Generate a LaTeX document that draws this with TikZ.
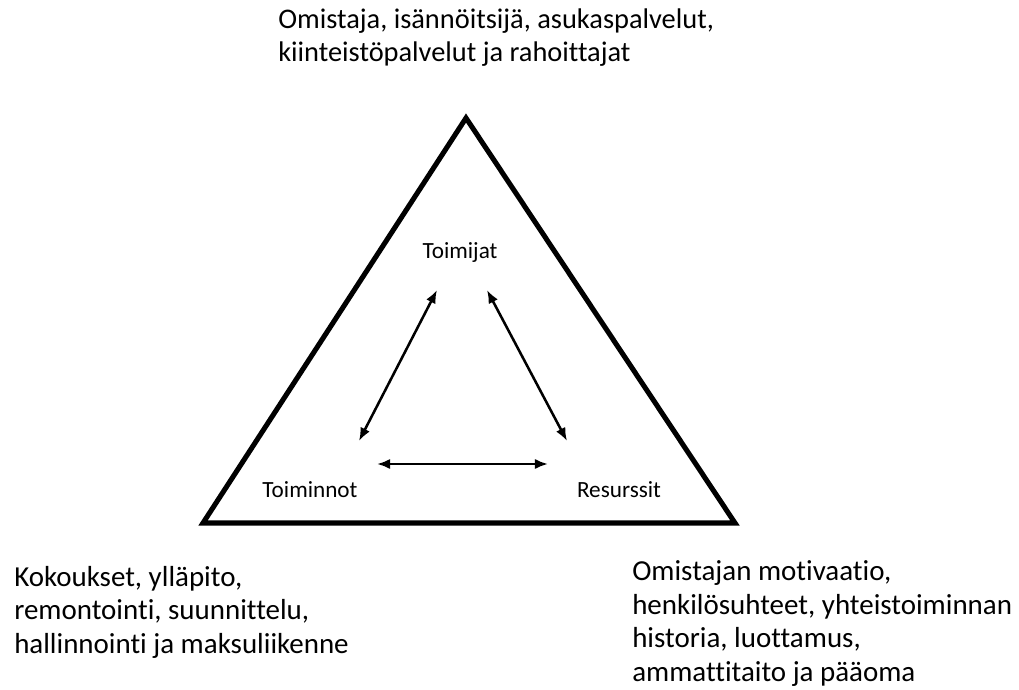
\documentclass[tikz,border=0pt]{standalone}
\usepackage{fontspec}
\setmainfont{Carlito}[Ligatures=NoCommon]
\usetikzlibrary{positioning,arrows.meta}

\begin{document}
\begin{tikzpicture}[
x=0.025cm,y=-0.025cm,
outer/.style={line width=3.6pt,line join=miter,draw=black},
corner/.style={font=\fontsize{16.5}{19}\selectfont,inner sep=0pt,anchor=base},
note/.style={font=\fontsize{20.6}{23.8}\selectfont,align=left,inner sep=0pt,anchor=base west},
arrow/.style={{Latex[length=3.3mm,width=2.6mm]}-{Latex[length=3.3mm,width=2.6mm]},line width=1.8pt}
]
\useasboundingbox (0,0) rectangle (1019,690);
% triangle
\draw[outer] (466,118) -- (735,523) -- (203,523) -- cycle;
% corner labels
\node[corner] (actors) at (460,258) {Toimijat};
\node[corner] (acts) at (310,497) {Toiminnot};
\node[corner] (res) at (619,497) {Resurssit};
% arrow ends
\coordinate (al) at (437,290); \coordinate (bl) at (359,441);
\coordinate (ar) at (487,290); \coordinate (br) at (567,441);
\coordinate (cl) at (377,464); \coordinate (cr) at (548,464);
\draw[arrow] (al)--(bl); \draw[arrow] (ar)--(br); \draw[arrow] (cl)--(cr);
% texts outside (anchored at last baseline)
\node[note,font=\fontsize{20.2}{23.8}\selectfont] (top) at (278,62) {Omistaja, isännöitsijä, asukaspalvelut,\\kiinteistöpalvelut ja rahoittajat};
\node[note] (left) at (14,653) {Kokoukset, ylläpito,\\remontointi, suunnittelu,\\hallinnointi ja maksuliikenne};
\node[note] (right) at (632,681) {Omistajan motivaatio,\\henkilösuhteet, yhteistoiminnan\\historia, luottamus,\\ammattitaito ja pääoma};
\end{tikzpicture}
\end{document}
